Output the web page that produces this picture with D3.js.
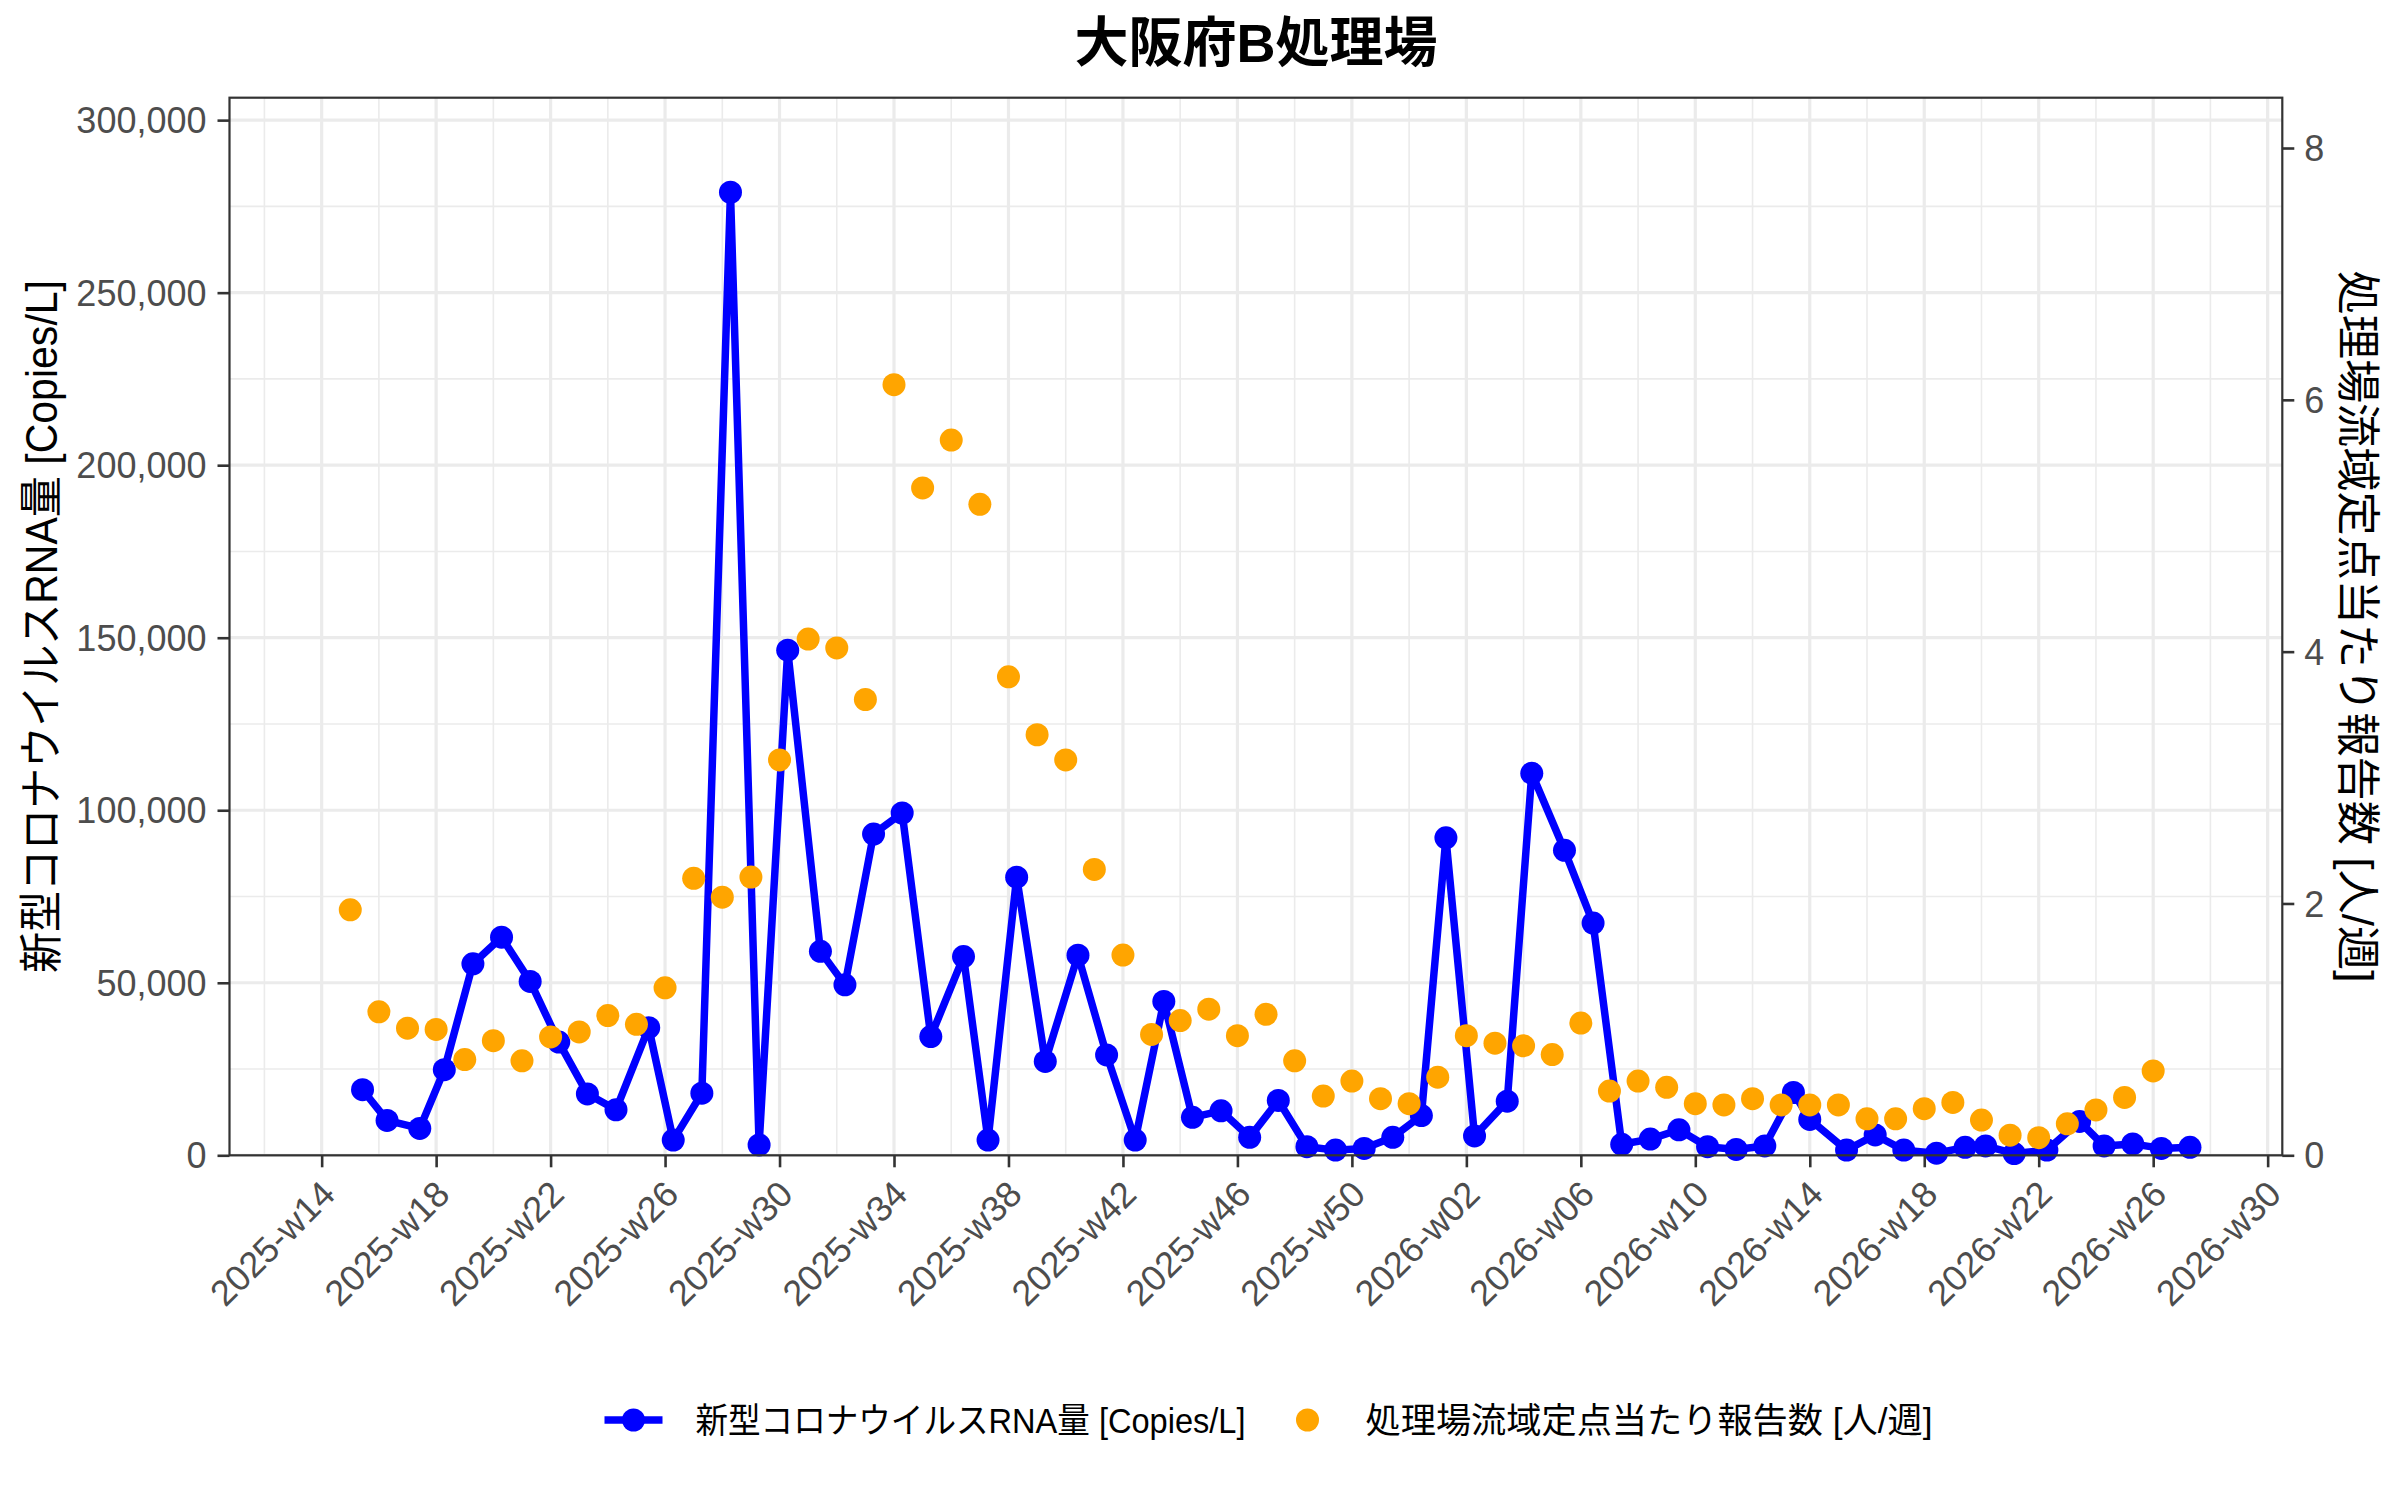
<!DOCTYPE html>
<html>
<head>
<meta charset="utf-8">
<script src="https://cdn.jsdelivr.net/npm/d3@7"></script>
<style>
body{margin:0;background:#fff;}
svg text{font-family:"Liberation Sans","Noto Sans CJK JP",sans-serif;}
</style>
</head>
<body>
<div id="chart"></div>
<script>
// wastewater samples (date, copies/L)
const sampleDates = [
  "2025-04-10","2025-04-16","2025-04-24","2025-04-30","2025-05-07","2025-05-14","2025-05-21","2025-05-28",
  "2025-06-04","2025-06-11","2025-06-19","2025-06-25","2025-07-02","2025-07-09","2025-07-16","2025-07-23",
  "2025-07-31","2025-08-06","2025-08-13","2025-08-20","2025-08-27","2025-09-04","2025-09-10","2025-09-17",
  "2025-09-24","2025-10-02","2025-10-09","2025-10-16","2025-10-23","2025-10-30","2025-11-06","2025-11-13",
  "2025-11-20","2025-11-27","2025-12-04","2025-12-11","2025-12-18","2025-12-25","2025-12-31","2026-01-07",
  "2026-01-15","2026-01-21","2026-01-29","2026-02-05","2026-02-12","2026-02-19","2026-02-26","2026-03-05",
  "2026-03-12","2026-03-19","2026-03-26","2026-03-30","2026-04-08","2026-04-15","2026-04-22","2026-04-30",
  "2026-05-07","2026-05-12","2026-05-19","2026-05-27","2026-06-04","2026-06-10","2026-06-17","2026-06-24",
  "2026-07-01"
];
const rnaCopies = [
  19000, 10100, 7800, 24800, 55500, 63200, 50400, 32800,
  17800, 13200, 37000, 4400, 18000, 279100, 3000, 146400,
  59100, 49400, 93100, 99200, 34400, 57600, 4400, 80600,
  27200, 58000, 29100, 4400, 44600, 11000, 12900, 5200,
  15900, 2500, 1500, 2000, 5200, 11500, 92000, 5600,
  15700, 110700, 88400, 67300, 3200, 4700, 7400, 2500,
  1700, 2700, 18200, 10400, 1500, 5900, 1500, 600,
  2300, 2700, 500, 1500, 9800, 2700, 3300, 2000,
  2300
];

// sentinel reports per site (plotted on the Monday of the week)
const reportWeeks = [
  "2025-W15","2025-W16","2025-W17","2025-W18","2025-W19","2025-W20","2025-W21","2025-W22",
  "2025-W23","2025-W24","2025-W25","2025-W26","2025-W27","2025-W28","2025-W29","2025-W30",
  "2025-W31","2025-W32","2025-W33","2025-W34","2025-W35","2025-W36","2025-W37","2025-W38",
  "2025-W39","2025-W40","2025-W41","2025-W42","2025-W43","2025-W44","2025-W45","2025-W46",
  "2025-W47","2025-W48","2025-W49","2025-W50","2025-W51","2025-W52","2026-W01","2026-W02",
  "2026-W03","2026-W04","2026-W05","2026-W06","2026-W07","2026-W08","2026-W09","2026-W10",
  "2026-W11","2026-W12","2026-W13","2026-W14","2026-W15","2026-W16","2026-W17","2026-W18",
  "2026-W19","2026-W20","2026-W21","2026-W22","2026-W23","2026-W24","2026-W25","2026-W26"
];
const reportsPerSite = [
  1.95, 1.14, 1.01, 1.00, 0.76, 0.91, 0.75, 0.94,
  0.98, 1.11, 1.04, 1.33, 2.20, 2.05, 2.21, 3.14,
  4.10, 4.03, 3.62, 6.12, 5.30, 5.68, 5.17, 3.80,
  3.34, 3.14, 2.27, 1.59, 0.96, 1.07, 1.16, 0.95,
  1.12, 0.75, 0.47, 0.59, 0.45, 0.41, 0.62, 0.95,
  0.89, 0.87, 0.80, 1.05, 0.51, 0.59, 0.54, 0.41,
  0.40, 0.45, 0.40, 0.40, 0.40, 0.29, 0.29, 0.37,
  0.42, 0.28, 0.16, 0.14, 0.25, 0.36, 0.46, 0.67
];

const xTickWeeks = ["2025-W14","2025-W18","2025-W22","2025-W26","2025-W30","2025-W34","2025-W38","2025-W42","2025-W46",
                    "2025-W50","2026-W02","2026-W06","2026-W10","2026-W14","2026-W18","2026-W22","2026-W26","2026-W30"];
const xMinorWeeks = ["2025-W12","2025-W16","2025-W20","2025-W24","2025-W28","2025-W32","2025-W36","2025-W40","2025-W44",
                     "2025-W48","2025-W52","2026-W04","2026-W08","2026-W12","2026-W16","2026-W20","2026-W24","2026-W28"];
const yTicksLeft = [0, 50000, 100000, 150000, 200000, 250000, 300000];
const yMinorLeft = [25000, 75000, 125000, 175000, 225000, 275000];
const yTicksRight = [0, 2, 4, 6, 8];

const xLimits = ["2025-03-08T11:00:00Z", "2026-07-23T14:00:00Z"];
const leftMax = 306500;
const secFactor = 36490;   // copies per report on the secondary axis

const titleText = "大阪府B処理場";
const rnaLabel = "新型コロナウイルスRNA量 [Copies/L]";
const reportLabel = "処理場流域定点当たり報告数 [人/週]";

// Monday of an ISO week label like "2025-W14"
function isoWeekMonday(label){
    let [y, w] = label.split("-W").map(Number);
    let jan4 = Date.UTC(y, 0, 4);
    let dow = (new Date(jan4).getUTCDay() + 6) % 7;
    return new Date(jan4 + ((w - 1) * 7 - dow) * 86400000);
}

const width = 2400, height = 1500;
const margin = {left:229.5, right:width - 2282.3, top:97.7, bottom:height - 1155.3};
const pw = width - margin.left - margin.right,
      ph = height - margin.top - margin.bottom;

let parseDate = d3.utcParse("%Y-%m-%d");
let rnaData = sampleDates.map((d,i) => ({date: parseDate(d), value: rnaCopies[i]}));
let repData = reportWeeks.map((w,i) => ({date: isoWeekMonday(w), value: reportsPerSite[i]}));

let svg = d3.select("#chart").append("svg")
            .attr("width", width).attr("height", height);
svg.append("rect").attr("width", width).attr("height", height).attr("fill", "#fff");

let g = svg.append("g").attr("transform", "translate(" + margin.left + "," + margin.top + ")");

// scales
let xScale = d3.scaleUtc().domain(xLimits.map(d => new Date(d))).range([0, pw]);
let yScale = d3.scaleLinear().domain([0, leftMax]).range([ph, 0]);
let yRight = d3.scaleLinear().domain([0, leftMax / secFactor]).range([ph, 0]);

// grid
let grid = g.append("g");
grid.selectAll(".ymin").data(yMinorLeft).enter().append("line")
    .attr("x1", 0).attr("x2", pw)
    .attr("y1", d => yScale(d)).attr("y2", d => yScale(d))
    .attr("stroke", "#ebebeb").attr("stroke-width", 1.6);
grid.selectAll(".xmin").data(xMinorWeeks).enter().append("line")
    .attr("x1", d => xScale(isoWeekMonday(d))).attr("x2", d => xScale(isoWeekMonday(d)))
    .attr("y1", 0).attr("y2", ph)
    .attr("stroke", "#ebebeb").attr("stroke-width", 1.6);
grid.selectAll(".ymaj").data(yTicksLeft).enter().append("line")
    .attr("x1", 0).attr("x2", pw)
    .attr("y1", d => yScale(d)).attr("y2", d => yScale(d))
    .attr("stroke", "#ebebeb").attr("stroke-width", 3.2);
grid.selectAll(".xmaj").data(xTickWeeks).enter().append("line")
    .attr("x1", d => xScale(isoWeekMonday(d))).attr("x2", d => xScale(isoWeekMonday(d)))
    .attr("y1", 0).attr("y2", ph)
    .attr("stroke", "#ebebeb").attr("stroke-width", 3.2);

// blue RNA line + points
let line = d3.line().x(d => xScale(d.date)).y(d => yScale(d.value));
g.append("path").datum(rnaData)
    .attr("d", line).attr("fill", "none")
    .attr("stroke", "#0000ff").attr("stroke-width", 7.5).attr("stroke-linejoin", "round");
g.selectAll(".rna").data(rnaData).enter().append("circle")
    .attr("cx", d => xScale(d.date)).attr("cy", d => yScale(d.value))
    .attr("r", 11.5).attr("fill", "#0000ff");

// orange report points
g.selectAll(".rep").data(repData).enter().append("circle")
    .attr("cx", d => xScale(d.date)).attr("cy", d => yRight(d.value))
    .attr("r", 11.5).attr("fill", "#ffa500");

// panel border
g.append("rect").attr("width", pw).attr("height", ph)
    .attr("fill", "none").attr("stroke", "#333333").attr("stroke-width", 2.2);

// axes
let fmtWeek = d3.utcFormat("%G-w%V");
let xAxis = d3.axisBottom(xScale)
              .tickValues(xTickWeeks.map(isoWeekMonday))
              .tickFormat(fmtWeek).tickSize(12).tickPadding(8);
let yAxis = d3.axisLeft(yScale).tickValues(yTicksLeft).tickFormat(d3.format(",")).tickSize(12).tickPadding(11);
let yAxisR = d3.axisRight(yRight).tickValues(yTicksRight).tickFormat(d3.format("d")).tickSize(12).tickPadding(10);

function styleAxis(sel){
    sel.select(".domain").remove();
    sel.selectAll(".tick line").attr("stroke", "#333333").attr("stroke-width", 2.6);
    sel.selectAll(".tick text").attr("fill", "#4d4d4d").style("font-size", "36px")
       .style("font-family", "'Liberation Sans','Noto Sans CJK JP',sans-serif");
}

let gx = g.append("g").attr("transform", "translate(0," + ph + ")").call(xAxis);
styleAxis(gx);
gx.selectAll(".tick text")
  .attr("text-anchor", "end")
  .attr("dy", null).attr("y", null)
  .attr("transform", "translate(15,41) rotate(-45)");

let gy = g.append("g").call(yAxis);
styleAxis(gy);
gy.selectAll(".tick text").attr("dy", "0.35em");

let gyr = g.append("g").attr("transform", "translate(" + pw + ",0)").call(yAxisR);
styleAxis(gyr);
gyr.selectAll(".tick text").attr("dy", "0.35em");

// titles
svg.append("text").attr("x", margin.left + pw / 2).attr("y", 43)
   .attr("text-anchor", "middle").attr("dominant-baseline", "central")
   .style("font-size", "54px").style("font-weight", "bold").text(titleText);

svg.append("text")
   .attr("transform", "translate(41," + (margin.top + ph / 2) + ") rotate(-90)")
   .attr("text-anchor", "middle").attr("dominant-baseline", "central")
   .attr("textLength", 693).attr("lengthAdjust", "spacingAndGlyphs")
   .style("font-size", "44px").attr("fill", "#000").text(rnaLabel);

svg.append("text")
   .attr("transform", "translate(2357," + (margin.top + ph / 2) + ") rotate(90)")
   .attr("text-anchor", "middle").attr("dominant-baseline", "central")
   .attr("textLength", 712).attr("lengthAdjust", "spacingAndGlyphs")
   .style("font-size", "44px").attr("fill", "#000").text(reportLabel);

// legend
let legend = svg.append("g");
let ly = 1420;
let k1 = legend.append("g");
k1.append("line").attr("x1", 0).attr("x2", 58).attr("y1", ly).attr("y2", ly)
  .attr("stroke", "#0000ff").attr("stroke-width", 7.5);
k1.append("circle").attr("cx", 29).attr("cy", ly).attr("r", 11.5).attr("fill", "#0000ff");
let t1w = 550, t2w = 567;
legend.append("text").attr("x", 91).attr("y", ly).attr("dominant-baseline", "central")
  .attr("textLength", t1w).attr("lengthAdjust", "spacingAndGlyphs")
  .style("font-size", "35px").text(rnaLabel);
let k2x = 91 + t1w + 62;
legend.append("circle").attr("cx", k2x).attr("cy", ly).attr("r", 11.5).attr("fill", "#ffa500");
legend.append("text").attr("x", k2x + 58).attr("y", ly).attr("dominant-baseline", "central")
  .attr("textLength", t2w).attr("lengthAdjust", "spacingAndGlyphs")
  .style("font-size", "35px").text(reportLabel);
let total = k2x + 58 + t2w;
legend.attr("transform", "translate(" + (1268.5 - total / 2) + ",0)");
</script>
</body>
</html>
